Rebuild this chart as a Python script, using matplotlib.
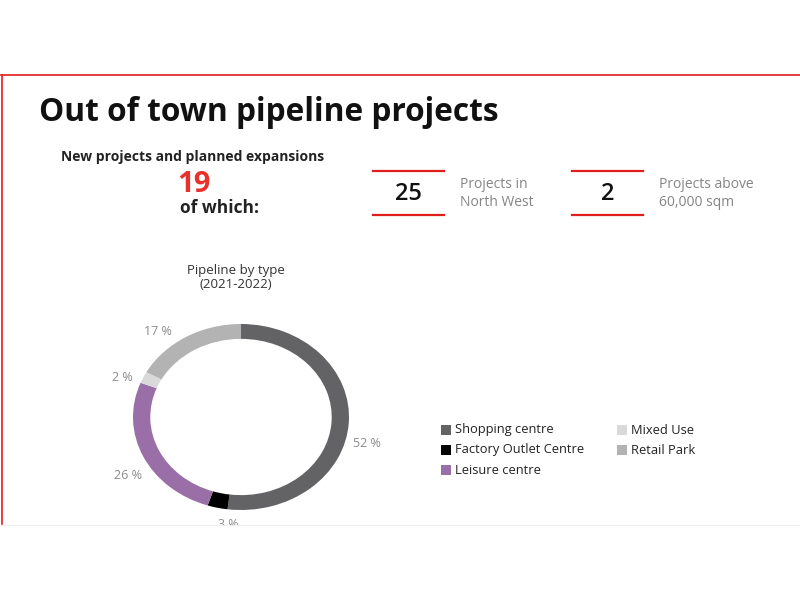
import numpy as np
import matplotlib
matplotlib.use('Agg')
from matplotlib import pyplot as plt
from matplotlib.lines import Line2D
from matplotlib.patches import Rectangle

# Pipeline by type (2021-2022), clockwise from the top
types = ['Shopping centre', 'Factory Outlet Centre', 'Leisure centre',
         'Mixed Use', 'Retail Park']
shares = [52, 3, 26, 2, 17]
colors = ['#636366', '#000000', '#9a6fa8', '#d9d9d9', '#b3b3b3']

# headline figures
total_projects = 19
kpi_values = ['25', '2']
kpi_labels = ['Projects in\nNorth West', 'Projects above\n60,000 sqm']

W, H = 800, 600
plt.rcParams['font.family'] = ['Open Sans', 'DejaVu Sans']


def fx(x):
    return x / W


def fy(y):
    return 1 - y / H


fig = plt.figure(figsize=(8, 6), dpi=100)
fig.patch.set_facecolor('white')

# red frame (top and left edges of the slide)
fig.add_artist(Line2D([fx(1), fx(800)], [fy(75), fy(75)], color='#e01e1e', lw=1.2))
fig.add_artist(Line2D([fx(1.5), fx(1.5)], [fy(75), fy(524)], color='#e01e1e', lw=1.2))

fig.text(fx(39), fy(121), 'Out of town pipeline projects', fontsize=22.8,
         fontweight='bold', color='#111111', va='baseline')

fig.text(fx(193), fy(157), 'New projects and planned expansions', fontsize=10,
         fontweight='bold', color='#222222', ha='center', va='center')
fig.text(fx(193.5), fy(184), str(total_projects), fontsize=21, fontweight='bold',
         color='#e8312a', ha='center', va='center')
fig.text(fx(219.5), fy(208), 'of which:', fontsize=12.5, fontweight='bold',
         color='#222222', ha='center', va='center')

# KPI boxes
for i, (val, lab) in enumerate(zip(kpi_values, kpi_labels)):
    x0 = 373 + i * 199
    for yy in (171, 215):
        fig.add_artist(Line2D([fx(x0), fx(x0 + 71)], [fy(yy), fy(yy)],
                              color='#e01e1e', lw=1.6))
    fig.text(fx(x0 + 35.5), fy(194), val, fontsize=17, fontweight='semibold',
             color='#111111', ha='center', va='center')
    fig.text(fx(x0 + 87), fy(193.5), lab, fontsize=10, color='#858585',
             ha='left', va='center', linespacing=1.3)

fig.text(fx(236), fy(277.5), 'Pipeline by type\n(2021-2022)', fontsize=9.5,
         color='#333333', ha='center', va='center', linespacing=1.15)

# donut (slightly squashed ellipse)
cx, cy, rx, ry = 241, 417, 108, 93
ax = fig.add_axes([fx(cx - rx), fy(cy + ry), 2 * rx / W, 2 * ry / H])
wedges, texts, autotexts = ax.pie(
    shares, colors=colors, startangle=90, counterclock=False, radius=1,
    wedgeprops=dict(width=0.16, edgecolor='none'),
    autopct=lambda p: '{:.0f} %'.format(p), pctdistance=1.2,
    textprops=dict(color='#8c8c8c', fontsize=9))
# labels in the reference sit a little off the wedge middles
shift = [-10, 7, 6, 4, 9]
dist = [1.2, 1.16, 1.22, 1.18, 1.2]
for t, w, d, r in zip(autotexts, wedges, shift, dist):
    a = np.deg2rad((w.theta1 + w.theta2) / 2 + d)
    t.set_position((r * np.cos(a), r * np.sin(a)))
ax.set_xlim(-1, 1)
ax.set_ylim(-1, 1)
ax.set_aspect('auto')
ax.axis('off')

# legend
leg_pos = [(441, 430), (441, 450), (441, 470), (617, 430), (617, 450)]
for (lx, ly), name, c in zip(leg_pos, types, colors):
    fig.add_artist(Rectangle((fx(lx), fy(ly + 5)), 10 / W, 10 / H,
                             facecolor=c, edgecolor='none'))
    fig.text(fx(lx + 14), fy(ly), name, fontsize=9.3, color='#222222',
             ha='left', va='center')

# slide is cut off at the bottom
fig.add_artist(Rectangle((0, 0), 1, fy(524.5), facecolor='white',
                         edgecolor='none', zorder=10))
fig.add_artist(Line2D([0, 1], [fy(524.5), fy(524.5)], color='#eeeeee',
                      lw=0.8, zorder=11))

fig.savefig('out.png', dpi=100)
